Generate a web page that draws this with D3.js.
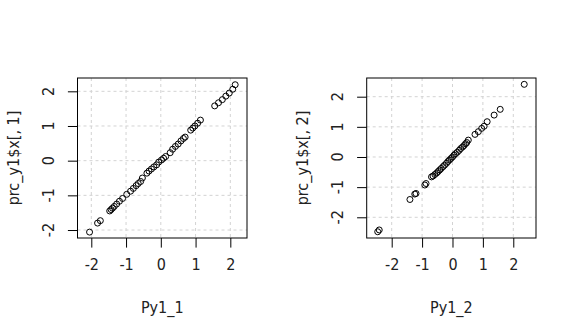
<!DOCTYPE html>
<html><head><meta charset="utf-8">
<script src="https://cdn.jsdelivr.net/npm/d3@7"></script>
<style>
html,body{margin:0;padding:0;background:#fff;}
svg text{font-family:"Liberation Sans Narrow","Arial Narrow","DejaVu Sans Condensed","Liberation Sans",sans-serif;fill:#222;}
</style></head>
<body>
<svg id="c" width="576" height="336"></svg>
<script>
// Panel 1: Py1_1 vs prc_y1$x[,1]
const py1_1 = [-2.05,-1.82,-1.74,-1.47,-1.43,-1.39,-1.34,-1.27,-1.19,-1.10,-0.98,-0.87,-0.79,-0.71,-0.65,-0.58,-0.53,-0.40,-0.34,-0.27,-0.20,-0.12,-0.06,0.02,0.08,0.14,0.27,0.34,0.42,0.50,0.58,0.65,0.70,0.86,0.92,0.98,1.06,1.14,1.55,1.66,1.77,1.87,1.97,2.07,2.14];
const prc1  = [-2.06,-1.80,-1.73,-1.45,-1.41,-1.37,-1.32,-1.25,-1.17,-1.09,-0.97,-0.88,-0.80,-0.72,-0.66,-0.60,-0.50,-0.36,-0.30,-0.24,-0.18,-0.12,-0.04,0.02,0.07,0.12,0.23,0.33,0.41,0.48,0.57,0.64,0.68,0.88,0.94,1.00,1.08,1.17,1.58,1.67,1.76,1.86,1.95,2.06,2.19];
// Panel 2: Py1_2 vs prc_y1$x[,2]
const py1_2 = [-2.46,-2.41,-1.40,-1.24,-1.20,-0.91,-0.87,-0.69,-0.64,-0.58,-0.52,-0.47,-0.42,-0.37,-0.31,-0.26,-0.20,-0.15,-0.10,-0.05,0.00,0.05,0.10,0.16,0.22,0.27,0.33,0.38,0.43,0.47,0.52,0.74,0.85,0.96,1.04,1.14,1.37,1.57,2.36];
const prc2  = [-2.48,-2.42,-1.41,-1.23,-1.21,-0.93,-0.88,-0.66,-0.63,-0.58,-0.53,-0.48,-0.43,-0.38,-0.32,-0.27,-0.21,-0.15,-0.10,-0.05,0.00,0.06,0.11,0.16,0.22,0.28,0.33,0.38,0.44,0.48,0.56,0.75,0.84,0.95,1.02,1.17,1.39,1.58,2.41];
const xTicks = [-2,-1,0,1,2];
const yTicks = [-2,-1,0,1,2];
const xLabels = ["Py1_1","Py1_2"];
const yLabels = ["prc_y1$x[, 1]","prc_y1$x[, 2]"];
const xDomains = [[-2.397,2.48],[-2.822,2.747]];
const yDomains = [[-2.23,2.384],[-2.687,2.62]];

const svg = d3.select("#c");
const panels = [
  {x:py1_1, y:prc1, left:77.5, right:247},
  {x:py1_2, y:prc2, left:366.7, right:536}
];
const boxTop = 78, boxBottom = 238;
const fmt = d => d < 0 ? "-" + Math.abs(d) : String(d);

panels.forEach((p,i)=>{
  const xs = d3.scaleLinear().domain(xDomains[i]).range([p.left,p.right]);
  const ys = d3.scaleLinear().domain(yDomains[i]).range([boxBottom,boxTop]);
  const g = svg.append("g");
  // grid
  g.selectAll(".gx").data(xTicks).enter().append("line")
    .attr("x1",d=>xs(d)).attr("x2",d=>xs(d)).attr("y1",boxTop).attr("y2",boxBottom)
    .attr("stroke","#d3d3d3").attr("stroke-dasharray","3,3").attr("stroke-width",1);
  g.selectAll(".gy").data(yTicks).enter().append("line")
    .attr("y1",d=>ys(d)).attr("y2",d=>ys(d)).attr("x1",p.left).attr("x2",p.right)
    .attr("stroke","#d3d3d3").attr("stroke-dasharray","3,3").attr("stroke-width",1);
  // points
  g.selectAll("circle").data(p.x.map((v,k)=>[v,p.y[k]])).enter().append("circle")
    .attr("cx",d=>xs(d[0])).attr("cy",d=>ys(d[1])).attr("r",3)
    .attr("fill","none").attr("stroke","#000").attr("stroke-width",1);
  // box
  g.append("rect").attr("x",p.left).attr("y",boxTop).attr("width",p.right-p.left).attr("height",boxBottom-boxTop)
    .attr("fill","none").attr("stroke","#000").attr("stroke-width",1);
  // x axis
  const xa = d3.axisBottom(xs).tickValues(xTicks).tickSize(9.6).tickPadding(11).tickFormat(fmt);
  const gx = svg.append("g").attr("transform",`translate(0,${boxBottom})`).call(xa);
  gx.select(".domain").remove();
  gx.attr("font-family",null).attr("font-size",null);
  gx.selectAll("line").attr("stroke","#000");
  gx.selectAll("text").attr("font-size",16).attr("fill","#222");
  // y axis ticks
  const ya = d3.axisLeft(ys).tickValues(yTicks).tickSize(9.6).tickFormat(fmt);
  const gy = svg.append("g").attr("transform",`translate(${p.left},0)`).call(ya);
  gy.select(".domain").remove();
  gy.attr("font-family",null).attr("font-size",null);
  gy.selectAll("line").attr("stroke","#000");
  gy.selectAll("text").remove();
  // y tick labels (rotated, parallel to axis)
  svg.append("g").selectAll("text").data(yTicks).enter().append("text")
    .attr("transform",d=>`translate(${p.left-29},${ys(d)}) rotate(-90)`)
    .attr("text-anchor","middle").attr("dominant-baseline","central").attr("font-size",16)
    .text(fmt);
  // titles
  svg.append("text").attr("x",(p.left+p.right)/2).attr("y",boxBottom+69)
    .attr("text-anchor","middle").attr("dominant-baseline","central").attr("font-size",16)
    .text(xLabels[i]);
  svg.append("text").attr("transform",`translate(${p.left-64},${(boxTop+boxBottom)/2}) rotate(-90)`)
    .attr("text-anchor","middle").attr("dominant-baseline","central").attr("font-size",16)
    .text(yLabels[i]);
});
</script>
</body></html>
